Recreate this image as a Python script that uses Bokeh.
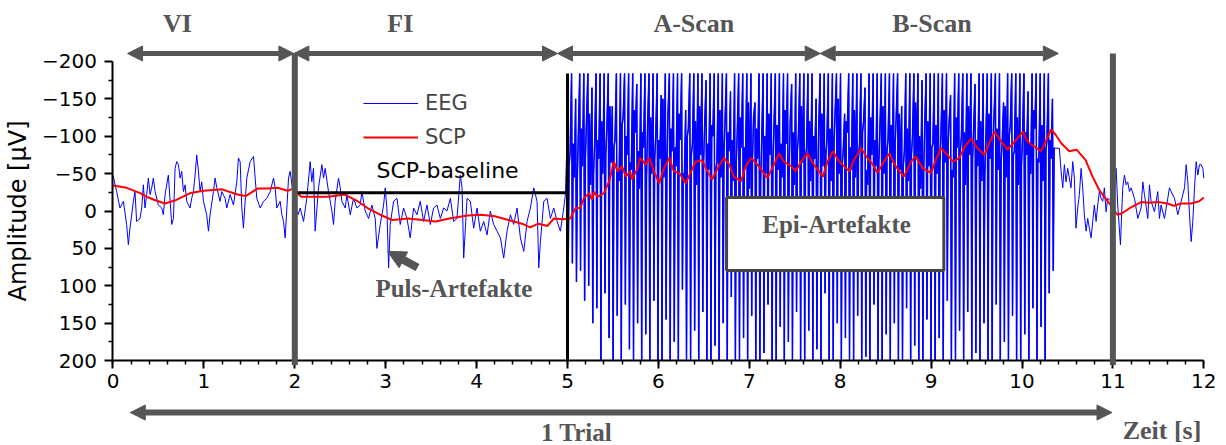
import numpy as np
from bokeh.plotting import figure
from bokeh.models import (Range1d, FixedTicker, Arrow, NormalHead, Label,
                          BoxAnnotation, Legend, LegendItem)
from bokeh.embed import file_html
from bokeh.resources import INLINE

# ---------------- data ----------------
# EEG, quiet part before the scan (0 .. 5 s)
eeg_quiet_t = [
    0.000, 0.040, 0.077, 0.114, 0.150, 0.169, 0.187, 0.224, 0.242, 0.260,
    0.297, 0.316, 0.334, 0.352, 0.371, 0.389, 0.408, 0.426, 0.444, 0.463,
    0.499, 0.536, 0.554, 0.573, 0.609, 0.646, 0.665, 0.683, 0.701, 0.720,
    0.738, 0.756, 0.775, 0.793, 0.811, 0.848, 0.866, 0.885, 0.903, 0.921,
    0.940, 0.958, 0.976, 0.995, 1.031, 1.050, 1.068, 1.105, 1.123, 1.142,
    1.178, 1.197, 1.233, 1.252, 1.289, 1.325, 1.362, 1.380, 1.399, 1.417,
    1.435, 1.454, 1.472, 1.509, 1.546, 1.564, 1.582, 1.619, 1.656, 1.692,
    1.729, 1.766, 1.784, 1.802, 1.839, 1.858, 1.876, 1.894, 1.913, 1.931,
    1.949, 1.980, 2.010, 2.035,
    2.060, 2.096, 2.132, 2.169, 2.187, 2.206, 2.224, 2.261, 2.298, 2.316,
    2.334, 2.371, 2.408, 2.426, 2.444, 2.481, 2.500, 2.518, 2.555, 2.573,
    2.610, 2.646, 2.683, 2.720, 2.738, 2.775, 2.812, 2.848, 2.885, 2.903,
    2.940, 2.977, 2.995, 3.013, 3.032, 3.050, 3.087, 3.124, 3.160, 3.197,
    3.234, 3.270, 3.307, 3.344, 3.380, 3.417, 3.454, 3.491, 3.527, 3.564,
    3.601, 3.638, 3.674, 3.711, 3.748, 3.784, 3.821, 3.840, 3.858, 3.895,
    3.931, 3.968, 4.005, 4.041, 4.078, 4.115, 4.151, 4.188, 4.225, 4.262,
    4.298, 4.335, 4.372, 4.408, 4.445, 4.482, 4.519, 4.555, 4.592, 4.629,
    4.665, 4.684, 4.702, 4.739, 4.775, 4.812, 4.849, 4.886, 4.922, 4.959,
    4.977,
]
eeg_quiet_v = [
    -48, -26, -4, -13, 18, 45, 23, -13, -26, 14,
    10, -4, -35, -4, -22, -44, -22, -31, -44, -26,
    -8, -4, 5, -22, -48, 18, 10, -57, -66, -62,
    -44, -53, -26, -35, -13, -4, -17, -26, -48, -75,
    -53, -26, -39, -13, 5, 27, 5, -26, -44, -31,
    -13, -26, -17, -4, -22, -8, -39, -71, -66, -4,
    23, -13, -44, -66, -73, -44, -17, -4, -13, -17,
    -26, -44, -31, -4, -13, 5, 14, 36, -4, -44,
    -53, -25, -5, 5,
    -4, 14, -17, -66, -39, -57, 27, -31, -62, -44,
    -57, -26, 0, 18, -13, -44, -31, -13, -4, -22,
    5, -17, -4, -8, -26, 0, 10, -8, 10, 50,
    18, -8, -31, -4, 76, 18, -13, -17, 18, -4,
    10, 36, -4, 5, -13, 14, -8, 18, -4, -8,
    10, -4, 0, -17, 14, 10, -48, -31, 63, -17,
    -13, 23, -4, 27, 14, 32, 0, 18, 27, 36,
    63, 27, 5, 18, -4, 36, 54, 14, -4, -31,
    -13, 76, 41, -13, -17, 10, -4, 14, 27, -4,
    -22,
]

# EEG during the scan (epileptiform artefacts, 5.0 .. 10.38 s):
# per swing: upper extreme, lower extreme, two values on the way back up
epi_window = [5.0, 10.38]
epi_top = [
    -120, -184, -150, -184, -184, -184, -165, -184, -184, -184,
    -184, -140, -184, -184, -184, -184, -184, -170, -184, -184,
    -184, -184, -184, -155, -184, -184, -184, -184, -184, -135,
    -184, -184, -184, -184, -175, -184, -184, -184, -184, -184,
    -160, -184, -184, -184, -184, -184, -145, -184, -184, -184,
    -184, -184, -184, -184, -184, -170, -184, -184, -184, -184,
    -184, -150, -184, -184, -184, -184, -184, -184, -130, -184,
    -184, -184, -184, -165, -184, -184, -184, -184, -184, -184,
    -184, -184, -140, -184, -184, -184, -184, -175, -184, -184,
    -184, -184, -184, -184, -155, -184, -184, -184, -184, -184,
    -170, -184, -184, -184, -184, -184, -184, -145, -184, -184,
    -184, -184, -184, -160, -184, -184, -184, -184, -184, -150,
]
epi_bottom = [
    55, 70, 95, 80, 120, 100, 150, 130, 200, 110,
    170, 200, 140, 200, 125, 185, 200, 150, 200, 165,
    200, 120, 200, 200, 145, 200, 175, 200, 105, 200,
    200, 160, 200, 135, 200, 200, 180, 200, 150, 200,
    115, 200, 200, 170, 200, 140, 200, 200, 190, 125,
    200, 200, 155, 200, 175, 200, 135, 200, 200, 160,
    200, 185, 200, 110, 200, 200, 150, 200, 170, 200,
    200, 140, 200, 195, 200, 125, 200, 200, 165, 200,
    150, 200, 200, 130, 200, 180, 200, 200, 145, 200,
    200, 170, 200, 120, 200, 200, 160, 200, 135, 200,
    190, 200, 150, 200, 200, 125, 200, 175, 200, 140,
    200, 200, 165, 200, 130, 200, 155, 200, 110, 80,
]
epi_mid = [
    -60, -90, -40, -110, -70, -130, -50, -95, -120, -75,
    -140, -85, -55, -115, -100, -65, -135, -80, -105, -45,
    -125, -70, -95, -150, -60, -110, -85, -130, -50, -100,
    -75, -120, -140, -65, -90, -115, -55, -135, -80, -105,
    -95, -60, -125, -85, -145, -70, -110, -40, -100, -130,
    -65, -115, -90, -135, -55, -105, -80, -140, -70, -120,
    -100, -45, -130, -75, -110, -90, -150, -60, -120, -85,
    -135, -70, -105, -55, -125, -95, -65, -140, -80, -115,
    -90, -130, -60, -110, -75, -145, -100, -50, -120, -85,
    -115, -65, -135, -90, -55, -125, -80, -105, -140, -70,
    -95, -120, -50, -130, -85, -110, -65, -140, -100, -75,
    -125, -60, -105, -90, -135, -70, -115, -80, -95, -84,
]
epi_upper = [
    -80, -45, -100, -60, -120, -35, -90, -70, -50, -110,
    -65, -95, -40, -125, -75, -55, -105, -30, -85, -115,
    -50, -100, -70, -45, -130, -80, -60, -95, -40, -110,
    -90, -35, -75, -115, -55, -100, -65, -45, -120, -80,
    -40, -105, -85, -60, -30, -125, -70, -95, -50, -75,
    -110, -55, -45, -90, -120, -35, -100, -65, -85, -40,
    -70, -115, -60, -95, -40, -130, -50, -80, -105, -55,
    -45, -90, -120, -35, -75, -60, -110, -50, -95, -65,
    -125, -55, -80, -40, -100, -70, -30, -115, -60, -90,
    -50, -105, -65, -120, -45, -85, -100, -35, -75, -110,
    -60, -40, -95, -70, -125, -55, -90, -45, -115, -80,
    -35, -100, -75, -50, -110, -65, -40, -95, -70, -84,
]

# EEG after the scan (10.41 .. 12 s)
eeg_post_t = [
    10.411, 10.430, 10.448, 10.466, 10.484, 10.503, 10.539, 10.558, 10.576, 10.594,
    10.613, 10.631, 10.650, 10.668, 10.686, 10.705, 10.723, 10.741, 10.760, 10.778,
    10.796, 10.815, 10.833, 10.851, 10.870, 10.888, 10.906, 10.925, 10.943, 10.980,
    11.035, 11.053, 11.083, 11.108, 11.127, 11.145, 11.163, 11.182, 11.200, 11.237,
    11.274, 11.310, 11.329, 11.347, 11.384, 11.402, 11.420, 11.457, 11.494, 11.512,
    11.530, 11.567, 11.604, 11.622, 11.641, 11.677, 11.714, 11.751, 11.788, 11.806,
    11.824, 11.843, 11.861, 11.879, 11.898, 11.916, 11.934, 11.953, 11.971, 11.990,
    12.000,
]
eeg_post_v = [
    -84, -53, -31, -62, -39, -57, -31, -66, -44, 23,
    -4, -22, -57, -31, 5, 27, 10, 23, 36, 14,
    -8, 14, -8, -26, -17, -13, -31, 1, -17, -13,
    -57, -8, 45, -31, -48, -35, -39, -26, -31, -17,
    10, -4, -39, -22, 10, -35, -13, 1, -26, 10,
    -8, 10, -17, -31, -26, -17, 5, -13, -31, -62,
    -39, 5, 41, 14, -31, -66, -48, -62, -62, -57,
    -44,
]

# SCP (slow cortical potential)
scp_t = [
    0.00, 0.15, 0.30, 0.37, 0.45, 0.57, 0.68, 0.85, 1.00, 1.20,
    1.37, 1.46, 1.59, 1.70, 1.81, 1.92, 1.98, 2.07, 2.20, 2.37,
    2.55, 2.68, 2.80, 2.94, 3.07, 3.25, 3.40, 3.55, 3.70, 3.90,
    4.05, 4.20, 4.35, 4.50, 4.59, 4.68, 4.78, 4.85, 4.95, 5.03,
    5.09, 5.14, 5.18, 5.24, 5.27, 5.29, 5.33, 5.40, 5.46, 5.51,
    5.55, 5.60, 5.64, 5.69, 5.71, 5.77, 5.80, 5.86, 5.90, 5.95,
    6.01, 6.06, 6.12, 6.17, 6.23, 6.30, 6.36, 6.41, 6.48, 6.54,
    6.59, 6.65, 6.72, 6.78, 6.83, 6.91, 6.96, 7.02, 7.09, 7.20,
    7.27, 7.33, 7.38, 7.46, 7.51, 7.57, 7.64, 7.71, 7.81, 7.86,
    7.92, 7.99, 8.04, 8.10, 8.15, 8.23, 8.30, 8.36, 8.41, 8.48,
    8.54, 8.61, 8.70, 8.78, 8.83, 8.91, 9.00, 9.05, 9.11, 9.18,
    9.24, 9.31, 9.37, 9.44, 9.51, 9.59, 9.64, 9.70, 9.77, 9.84,
    9.92, 10.01, 10.06, 10.14, 10.21, 10.26, 10.32, 10.37, 10.43, 10.52,
    10.60, 10.70, 10.78, 10.85, 10.95, 11.05, 11.10, 11.20, 11.31, 11.40,
    11.50, 11.60, 11.67, 11.75, 11.86, 11.95, 12.00,
]
scp_v = [
    -34, -31, -24, -19, -15, -10, -14, -24, -27, -29,
    -22, -20, -30, -30, -31, -27, -30, -19, -19, -19,
    -22, -14, -4, 5, 12, 10, 12, 14, 10, 6,
    5, 7, 12, 17, 22, 17, 20, 10, 11, 10,
    -4, -4, -17, -24, -15, -26, -19, -24, -40, -66,
    -53, -60, -46, -53, -42, -57, -71, -62, -71, -53,
    -37, -57, -71, -53, -51, -37, -53, -66, -68, -53,
    -42, -57, -71, -62, -46, -40, -60, -71, -62, -44,
    -62, -77, -66, -60, -53, -66, -77, -62, -46, -66,
    -80, -66, -60, -53, -68, -84, -71, -62, -51, -66,
    -77, -60, -46, -66, -73, -57, -51, -68, -84, -75,
    -66, -71, -86, -97, -84, -75, -91, -106, -93, -82,
    -93, -106, -93, -86, -80, -93, -109, -102, -91, -80,
    -82, -68, -45, -28, -12, 5, 3, -5, -12, -11,
    -12, -10, -7, -10, -10, -13, -18,
]

# trial structure
phase_names = ["VI", "FI", "A-Scan", "B-Scan"]
phase_edges = [0.16, 1.99, 4.89, 7.78, 10.40]
phase_label_x = [0.71, 3.16, 6.39, 9.01]
trial_markers = [2.0, 11.0]      # grey vertical bars
scan_onset = 5.0                 # black vertical bar
scp_baseline = -24.5             # SCP baseline level (FI window)
trial_span = [0.19, 10.99]

x_ticks = list(range(0, 13))
y_ticks = [-200, -150, -100, -50, 0, 50, 100, 150, 200]
y_minor = [-175, -125, -75, -25, 25, 75, 125, 175]
x_minor = [round(i * 0.2, 1) for i in range(61)]

# ---------------- assemble series ----------------
n_sw = len(epi_top)
sw_start = np.linspace(epi_window[0], epi_window[1], n_sw + 1)[:-1]
sw_len = (epi_window[1] - epi_window[0]) / n_sw
epi_t, epi_v = [], []
for c, a, b, m, u in zip(sw_start, epi_top, epi_bottom, epi_mid, epi_upper):
    epi_t += [c, c + 0.2 * sw_len, c + 0.4 * sw_len, c + 0.65 * sw_len]
    epi_v += [a, b, m, u]
eeg_t = eeg_quiet_t + epi_t + eeg_post_t
eeg_v = eeg_quiet_v + epi_v + eeg_post_v

# ---------------- figure ----------------
GREY = "#555555"
p = figure(width=1226, height=445, output_backend="svg", toolbar_location=None,
           x_range=Range1d(-1.2376, 12.2497), y_range=Range1d(313.7, -281.6),
           min_border_left=0, min_border_right=0,
           min_border_top=0, min_border_bottom=0)
p.outline_line_color = None
p.grid.visible = False
p.background_fill_color = "white"

for ax in (p.xaxis[0], p.yaxis[0]):
    ax.axis_line_width = 2
    ax.axis_line_color = "black"
    ax.major_tick_line_width = 2
    ax.minor_tick_line_width = 1.5
    ax.major_tick_out = 8
    ax.major_tick_in = 0
    ax.minor_tick_out = 4
    ax.minor_tick_in = 0
    ax.major_label_text_font = "DejaVu Sans"
    ax.major_label_text_font_size = "20px"
    ax.major_label_text_color = "black"

p.xaxis.ticker = FixedTicker(ticks=x_ticks, minor_ticks=x_minor)
p.xaxis.fixed_location = 200
p.xaxis.bounds = (0, 12)
p.yaxis.ticker = FixedTicker(ticks=y_ticks, minor_ticks=y_minor)
p.yaxis.fixed_location = 0
p.yaxis.bounds = (-200, 200)
p.yaxis.major_label_standoff = 8
p.yaxis.axis_label = "Amplitude [µV]"
p.yaxis.axis_label_text_font = "DejaVu Sans"
p.yaxis.axis_label_text_font_size = "24px"
p.yaxis.axis_label_text_font_style = "normal"
p.yaxis.axis_label_text_color = "black"
p.yaxis.axis_label_standoff = 7

eeg = p.line(eeg_t, eeg_v, line_color="#0000ff", line_width=1)
# the dense artefact burst drawn a little heavier, as in the figure
p.line(epi_t, epi_v, line_color="#0000ff", line_width=1.5)
scp = p.line(scp_t, scp_v, line_color="#ff0000", line_width=2)

# black baseline & scan onset bar
p.segment(x0=[trial_markers[0]], y0=[scp_baseline], x1=[scan_onset], y1=[scp_baseline],
          line_color="black", line_width=3)
p.segment(x0=[scan_onset], y0=[epi_top[1]], x1=[scan_onset], y1=[200],
          line_color="black", line_width=3)

# grey trial markers
for xm in trial_markers:
    p.add_layout(Arrow(end=None, x_start=xm, y_start=-210.7, x_end=xm, y_end=206,
                       line_color=GREY, line_width=6))

# phase arrows on top
def head():
    return NormalHead(size=15, fill_color=GREY, line_color=GREY)

for i, name in enumerate(phase_names):
    p.add_layout(Arrow(start=head(), end=head(),
                       x_start=phase_edges[i], y_start=-210.7,
                       x_end=phase_edges[i + 1], y_end=-210.7,
                       line_color=GREY, line_width=5))
    p.add_layout(Label(x=phase_label_x[i], y=-251, text=name,
                       text_font="Liberation Serif", text_font_style="bold",
                       text_font_size="26px", text_color=GREY,
                       text_align="center", text_baseline="middle"))

# 1 trial arrow below axis
p.add_layout(Arrow(start=head(), end=head(),
                   x_start=trial_span[0], y_start=269.6,
                   x_end=trial_span[1], y_end=269.6,
                   line_color=GREY, line_width=6))
p.add_layout(Label(x=5.10, y=296, text="1 Trial",
                   text_font="Liberation Serif", text_font_style="bold",
                   text_font_size="25px", text_color=GREY,
                   text_align="center", text_baseline="middle"))
p.add_layout(Label(x=11.54, y=293.6, text="Zeit [s]",
                   text_font="Liberation Serif", text_font_style="bold",
                   text_font_size="26px", text_color=GREY,
                   text_align="center", text_baseline="middle"))

# SCP-baseline label
p.add_layout(Label(x=3.68, y=-54, text="SCP-baseline",
                   text_font="DejaVu Sans", text_font_size="22px",
                   text_color="black", text_align="center", text_baseline="middle"))

# Puls-Artefakte arrow + label
p.add_layout(Arrow(end=NormalHead(size=18, fill_color=GREY, line_color=GREY),
                   x_start=3.35, y_start=75.6, x_end=3.02, y_end=54,
                   line_color=GREY, line_width=8))
p.add_layout(Label(x=3.75, y=103.7, text="Puls-Artefakte",
                   text_font="Liberation Serif", text_font_style="bold",
                   text_font_size="25px", text_color=GREY,
                   text_align="center", text_baseline="middle"))

# Epi-Artefakte box
p.add_layout(BoxAnnotation(left=6.75, right=9.14, top=-18, bottom=79.6,
                           fill_color="white", fill_alpha=1.0,
                           line_color="#444444", line_width=3, line_alpha=1.0))
p.add_layout(Label(x=7.96, y=18, text="Epi-Artefakte",
                   text_font="Liberation Serif", text_font_style="bold",
                   text_font_size="25px", text_color=GREY,
                   text_align="center", text_baseline="middle"))

legend = Legend(items=[LegendItem(label="EEG", renderers=[eeg]),
                       LegendItem(label="SCP", renderers=[scp])],
                location=(363, 296), orientation="vertical",
                glyph_width=55, glyph_height=24, label_height=24,
                label_standoff=7, spacing=10, padding=0, margin=0,
                label_text_font="DejaVu Sans", label_text_font_size="21px",
                border_line_color=None, background_fill_alpha=0)
p.add_layout(legend)

open("out.html", "w").write(file_html(p, INLINE))
